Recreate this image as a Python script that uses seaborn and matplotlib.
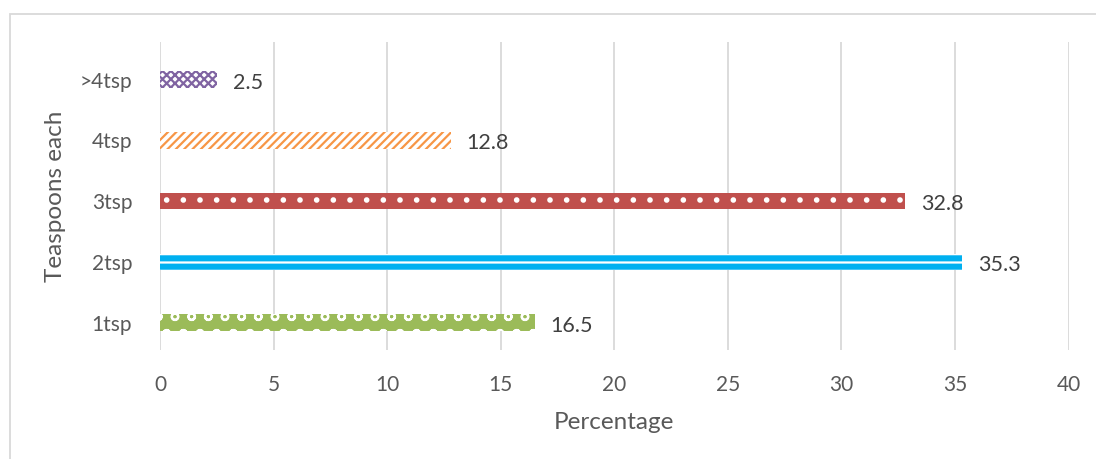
import matplotlib
matplotlib.use("Agg")
import matplotlib.pyplot as plt
import seaborn as sns
import pandas as pd
from matplotlib.patches import Rectangle

categories = [">4tsp", "4tsp", "3tsp", "2tsp", "1tsp"]
percent = [2.5, 12.8, 32.8, 35.3, 16.5]

# (face, hatch colour, hatch) per bar, top to bottom
bar_styles = [
    ("white", "#8064A2", "xxxx"),
    ("white", "#F79646", "////"),
    ("#C0504D", "white", "."),
    ("#00B0F0", "white", "--"),
    ("#9BBB59", "white", "o"),
]

sns.set_style("white")
plt.rcParams["font.family"] = ["Lato", "DejaVu Sans"]
plt.rcParams["hatch.linewidth"] = 1.6

df = pd.DataFrame({"cat": categories, "pct": percent})

fig = plt.figure(figsize=(10.96, 4.59), dpi=100)
ax = fig.add_axes([0.146, 0.2375, 0.829, 0.671])

sns.barplot(data=df, x="pct", y="cat", order=categories, orient="h",
            width=0.27, ax=ax, color="gray")

for patch, (face, hc, hatch) in zip(ax.patches, bar_styles):
    patch.set_facecolor(face)
    patch.set_edgecolor(hc)
    patch.set_hatch(hatch)
    patch.set_linewidth(0)

for i, v in enumerate(percent):
    ax.text(v + 0.7, i + 0.05, f"{v}", va="center", ha="left",
            fontsize=15.5, color="#404040")

ax.set_xlim(0, 40)
ax.set_xticks(range(0, 45, 5))
ax.set_ylim(4.45, -0.62)
ax.grid(axis="x", color="#D9D9D9", linewidth=1.3)
ax.set_axisbelow(True)
for s in ax.spines.values():
    s.set_visible(False)
ax.tick_params(axis="both", length=0, labelsize=15, colors="#595959")
ax.tick_params(axis="x", pad=18)
ax.tick_params(axis="y", pad=20)
ax.set_xlabel("Percentage", fontsize=17.5, color="#595959", labelpad=12)
ax.set_ylabel("Teaspoons each", fontsize=17.5, color="#595959", labelpad=10)

fig.patches.append(Rectangle((10 / 1096, -0.05), 1.2, (459 - 14) / 459 + 0.05,
                             transform=fig.transFigure, fill=False,
                             edgecolor="#D9D9D9", linewidth=1.3))

fig.savefig("out.png", dpi=100)
